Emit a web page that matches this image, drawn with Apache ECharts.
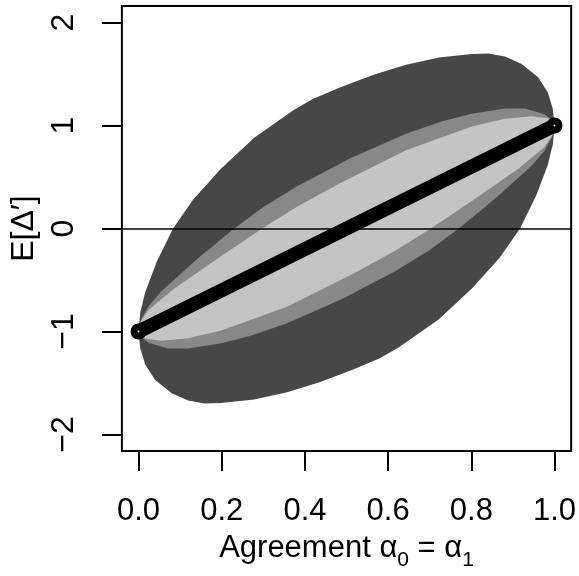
<!DOCTYPE html>
<html><head><meta charset="utf-8">
<script src="https://cdn.jsdelivr.net/npm/echarts@6/dist/echarts.min.js"></script>
<style>html,body{margin:0;padding:0;background:#fff}#c{width:579px;height:576px}</style>
</head><body><div id="c"></div>
<script>
// Tick positions and labels
const xTicks = [0, 0.2, 0.4, 0.6, 0.8, 1.0];
const xTickLabels = ['0.0', '0.2', '0.4', '0.6', '0.8', '1.0'];
const yTicks = [-2, -1, 0, 1, 2];
const yTickLabels = ['\u22122', '\u22121', '0', '1', '2'];

// Outer (dark) region boundaries
const darkUpperX = [0, 0.004, 0.016, 0.044, 0.083, 0.131, 0.198, 0.278, 0.373, 0.42, 0.484, 0.563, 0.643, 0.722, 0.801, 0.841, 0.881, 0.920, 0.960, 0.984, 0.996, 1];
const darkUpperY = [-1, -0.82, -0.62, -0.32, 0.0, 0.28, 0.58, 0.88, 1.15, 1.26, 1.37, 1.49, 1.59, 1.66, 1.695, 1.698, 1.67, 1.60, 1.47, 1.32, 1.16, 1];
const darkLowerX = [0, 0.004, 0.016, 0.040, 0.080, 0.119, 0.159, 0.199, 0.278, 0.357, 0.437, 0.516, 0.58, 0.627, 0.722, 0.802, 0.869, 0.917, 0.956, 0.984, 0.996, 1];
const darkLowerY = [-1, -1.16, -1.32, -1.47, -1.60, -1.67, -1.698, -1.695, -1.66, -1.59, -1.49, -1.37, -1.26, -1.15, -0.88, -0.58, -0.28, 0.0, 0.32, 0.62, 0.82, 1];

// Middle (medium grey) region boundaries
const midUpperX = [0, 0.002, 0.008, 0.025, 0.055, 0.143, 0.230, 0.301, 0.381, 0.508, 0.643, 0.730, 0.801, 0.881, 0.929, 0.976, 0.996, 1];
const midUpperY = [-1, -0.93, -0.87, -0.75, -0.61, -0.29, 0.0, 0.21, 0.41, 0.68, 0.92, 1.04, 1.115, 1.165, 1.165, 1.11, 1.045, 1];
const midLowerX = [0, 0.004, 0.024, 0.071, 0.119, 0.199, 0.270, 0.357, 0.492, 0.619, 0.699, 0.770, 0.857, 0.945, 0.975, 0.992, 0.998, 1];
const midLowerY = [-1, -1.045, -1.11, -1.165, -1.165, -1.115, -1.04, -0.92, -0.68, -0.41, -0.21, 0.0, 0.29, 0.61, 0.75, 0.87, 0.93, 1];

// Inner (light grey) region boundaries
const lightUpperX = [0, 0.006, 0.024, 0.087, 0.198, 0.301, 0.381, 0.484, 0.643, 0.801, 0.881, 0.944, 0.984, 1];
const lightUpperY = [-1, -0.90, -0.79, -0.58, -0.27, 0.01, 0.21, 0.44, 0.76, 0.99, 1.065, 1.09, 1.07, 1];
const lightLowerX = [0, 0.016, 0.056, 0.119, 0.199, 0.357, 0.516, 0.619, 0.699, 0.802, 0.913, 0.976, 0.994, 1];
const lightLowerY = [-1, -1.07, -1.09, -1.065, -0.99, -0.76, -0.44, -0.21, -0.01, 0.27, 0.58, 0.79, 0.90, 1];

// Expected value line
const lineX = [0, 1];
const lineY = [-1, 1];

const FONT = 'Liberation Sans, Arial, Helvetica, sans-serif';

function regionSeries(ux, uy, lx, ly, color) {
  const pts = [];
  for (let i = 0; i < ux.length; i++) pts.push([ux[i], uy[i]]);
  for (let i = lx.length - 1; i >= 0; i--) pts.push([lx[i], ly[i]]);
  return {
    type: 'custom',
    coordinateSystem: 'cartesian2d',
    silent: true,
    data: pts,
    encode: { x: 0, y: 1 },
    renderItem: function (params, api) {
      if (params.dataIndex !== 0) return null;
      const poly = pts.map(p => api.coord(p));
      return { type: 'polygon', shape: { points: poly }, style: { fill: color, stroke: null } };
    }
  };
}

function lookup(ticks, labels, v) {
  let best = 0;
  for (let i = 1; i < ticks.length; i++) if (Math.abs(ticks[i] - v) < Math.abs(ticks[best] - v)) best = i;
  return labels[best];
}

const chart = echarts.init(document.getElementById('c'));
chart.setOption({
  animation: false,
  backgroundColor: '#fff',
  grid: { left: 120, right: 5.5, top: 6, bottom: 116.5, show: true, borderColor: '#000', borderWidth: 2, backgroundColor: 'transparent' },
  xAxis: {
    type: 'value', min: -0.04, max: 1.04,
    splitLine: { show: false },
    axisLine: { show: false, onZero: false },
    axisTick: { show: true, customValues: xTicks, length: 20, inside: false, lineStyle: { color: '#000', width: 2 } },
    axisLabel: { customValues: xTicks, formatter: v => lookup(xTicks, xTickLabels, v), fontSize: 31, color: '#000', margin: 45, fontFamily: FONT },
    name: '{t|Agreement α}{s|0}{t| = α}{s|1}',
    nameLocation: 'middle', nameGap: 80,
    nameTextStyle: {
      color: '#000', fontFamily: FONT, fontSize: 31,
      rich: {
        t: { fontSize: 31, fontFamily: FONT, color: '#000', lineHeight: 34 },
        s: { fontSize: 21, fontFamily: FONT, color: '#000', lineHeight: 34, verticalAlign: 'bottom', padding: [0, 0, -6, 0] }
      }
    }
  },
  yAxis: {
    type: 'value', min: -2.16, max: 2.16,
    splitLine: { show: false },
    axisLine: { show: false, onZero: false },
    axisTick: { show: true, customValues: yTicks, length: 20, inside: false, lineStyle: { color: '#000', width: 2 } },
    axisLabel: { customValues: yTicks, formatter: v => lookup(yTicks, yTickLabels, v), fontSize: 32, color: '#000', margin: 42, rotate: 90, fontFamily: FONT },
    name: 'E[Δ′]',
    nameLocation: 'middle', nameGap: 76,
    nameTextStyle: { color: '#000', fontFamily: FONT, fontSize: 32 }
  },
  series: [
    regionSeries(darkUpperX, darkUpperY, darkLowerX, darkLowerY, '#474747'),
    regionSeries(midUpperX, midUpperY, midLowerX, midLowerY, '#888888'),
    regionSeries(lightUpperX, lightUpperY, lightLowerX, lightLowerY, '#c4c4c4'),
    {
      type: 'line', data: [], silent: true,
      markLine: { silent: true, symbol: ['none', 'none'], label: { show: false }, data: [{ yAxis: 0 }], lineStyle: { color: '#000', width: 1.5, type: 'solid' } }
    },
    {
      type: 'line', silent: true,
      data: lineX.map((x, i) => [x, lineY[i]]),
      lineStyle: { color: '#000', width: 14, cap: 'round' },
      symbol: 'circle', symbolSize: 9, showSymbol: true,
      itemStyle: { color: '#fff', borderColor: '#000', borderWidth: 7 }
    }
  ]
});
</script>
</body></html>
